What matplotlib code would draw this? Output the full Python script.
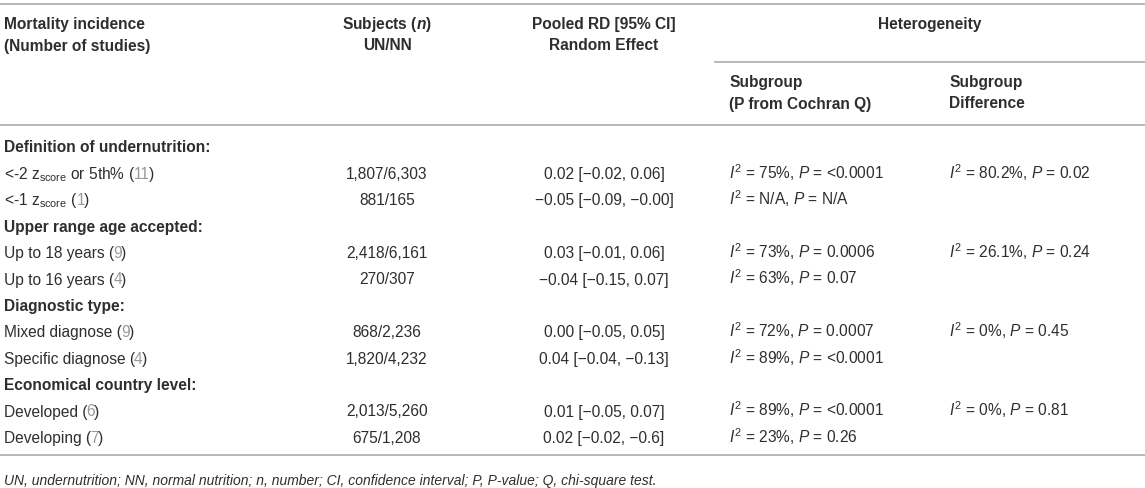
import matplotlib
matplotlib.use("Agg")
import matplotlib.pyplot as plt

plt.rcParams['font.family'] = ['Liberation Sans', 'DejaVu Sans']
plt.rcParams['mathtext.fontset'] = 'custom'
plt.rcParams['mathtext.rm'] = 'Liberation Sans'
plt.rcParams['mathtext.it'] = 'Liberation Sans:italic'
plt.rcParams['mathtext.bf'] = 'Liberation Sans:bold'
plt.rcParams['mathtext.bfit'] = 'Liberation Sans:italic:bold'

# ---------------- data ----------------
group_titles = ["Definition of undernutrition:", "Upper range age accepted:",
                "Diagnostic type:", "Economical country level:"]
rows_per_group = [2, 2, 2, 2]
row_labels = [r"<-2 z$_{\mathrm{score}}$ or 5th%", r"<-1 z$_{\mathrm{score}}$",
              "Up to 18 years", "Up to 16 years",
              "Mixed diagnose", "Specific diagnose",
              "Developed", "Developing"]
n_studies = ["11", "1", "9", "4", "9", "4", "6", "7"]
subjects = ["1,807/6,303", "881/165", "2,418/6,161", "270/307",
            "868/2,236", "1,820/4,232", "2,013/5,260", "675/1,208"]
rd_est = ["0.02", "\u22120.05", "0.03", "\u22120.04", "0.00", "0.04", "0.01", "0.02"]
rd_low = ["\u22120.02", "\u22120.09", "\u22120.01", "\u22120.15", "\u22120.05", "\u22120.04", "\u22120.05", "\u22120.02"]
rd_high = ["0.06", "\u22120.00", "0.06", "0.07", "0.05", "\u22120.13", "0.07", "\u22120.6"]
sub_i2 = ["75%", "N/A", "73%", "63%", "72%", "89%", "89%", "23%"]
sub_p = ["<0.0001", "N/A", "0.0006", "0.07", "0.0007", "<0.0001", "<0.0001", "0.26"]
diff_i2 = ["80.2%", "26.1%", "0%", "0%"]
diff_p = ["0.02", "0.24", "0.45", "0.81"]

header_cols = [
    ("Mortality incidence\n(Number of studies)", "left"),
    ("Subjects ($\\mathbfit{n}$)\nUN/NN", "center"),
    ("Pooled RD [95% CI]\nRandom Effect", "center"),
]
footnote = ("UN, undernutrition; NN, normal nutrition; n, number; CI, confidence interval; "
            "P, P-value; Q, chi-square test.")

# ---------------- layout ----------------
W, H = 1145, 488
fig = plt.figure(figsize=(W / 100, H / 100), dpi=100)
ax = fig.add_axes([0, 0, 1, 1])
ax.set_xlim(0, W)
ax.set_ylim(H, 0)
ax.axis('off')

TXT = '#2e2e2e'
GRAY = '#999999'
LINE = '#b8b8b8'
FS = 11.2
FSB = 11.2
X1, X2, X3, X4, X5 = 4, 387, 604, 729, 949

fig.canvas.draw()
renderer = fig.canvas.get_renderer()


def chain(x, y, parts, **kw):
    """Draw consecutive text pieces on a baseline starting at x."""
    for s, col, extra in parts:
        d = dict(kw)
        d.update(extra)
        t = ax.text(x, y, s, color=col, ha='left', va='baseline', **d)
        bb = t.get_window_extent(renderer)
        x = x + bb.width - 1.0
    return x


# rules
ax.plot([0, W], [4, 4], color=LINE, lw=1.4)
ax.plot([715, W], [62, 62], color=LINE, lw=1.4)
ax.plot([0, W], [125, 125], color=LINE, lw=1.4)
ax.plot([0, W], [455, 455], color=LINE, lw=1.4)

# header
hy1, hy2 = 28.5, 50.5
for (txt, ha), x in zip(header_cols, [X1, X2, X3]):
    l1, l2 = txt.split("\n")
    ax.text(x, hy1, l1, ha=ha, va='baseline', fontsize=FSB, fontweight='bold', color=TXT)
    ax.text(x, hy2, l2, ha=ha, va='baseline', fontsize=FSB, fontweight='bold', color=TXT)
ax.text((715 + W) / 2, hy1, "Heterogeneity", ha='center', va='baseline',
        fontsize=FSB, fontweight='bold', color=TXT)
ax.text(X4, 87.5, "Subgroup", ha='left', va='baseline', fontsize=FSB, fontweight='bold', color=TXT)
ax.text(X4, 108.5, "(P from Cochran Q)", ha='left', va='baseline', fontsize=FSB, fontweight='bold', color=TXT)
ax.text(X5, 87.5, "Subgroup", ha='left', va='baseline', fontsize=FSB, fontweight='bold', color=TXT)
ax.text(X5, 108.5, "Difference", ha='left', va='baseline', fontsize=FSB, fontweight='bold', color=TXT)

# body
y0, step, off = 147, 26.4, 5.5
line = 0
r = 0
for g, title in enumerate(group_titles):
    yb = y0 + line * step + off
    ax.text(X1, yb, title, ha='left', va='baseline', fontsize=FSB, fontweight='bold', color=TXT)
    line += 1
    for k in range(rows_per_group[g]):
        yb = y0 + line * step + off
        chain(X1, yb, [(row_labels[r] + " (", TXT, {}), (n_studies[r], GRAY, {}), (")", TXT, {})],
              fontsize=FS)
        ax.text(X2, yb, subjects[r], ha='center', va='baseline', fontsize=FS, color=TXT)
        ax.text(X3, yb, f"{rd_est[r]} [{rd_low[r]}, {rd_high[r]}]", ha='center', va='baseline',
                fontsize=FS, color=TXT)
        ax.text(X4, yb, f"$I^2$ = {sub_i2[r]}, $P$ = {sub_p[r]}", ha='left', va='baseline',
                fontsize=FS, color=TXT)
        if k == 0:
            ax.text(X5, yb, f"$I^2$ = {diff_i2[g]}, $P$ = {diff_p[g]}", ha='left', va='baseline',
                    fontsize=FS, color=TXT)
        r += 1
        line += 1

ax.text(X1, 485, footnote, ha='left', va='baseline', fontsize=10.0, style='italic', color=TXT)

fig.savefig("out.png", dpi=100)
